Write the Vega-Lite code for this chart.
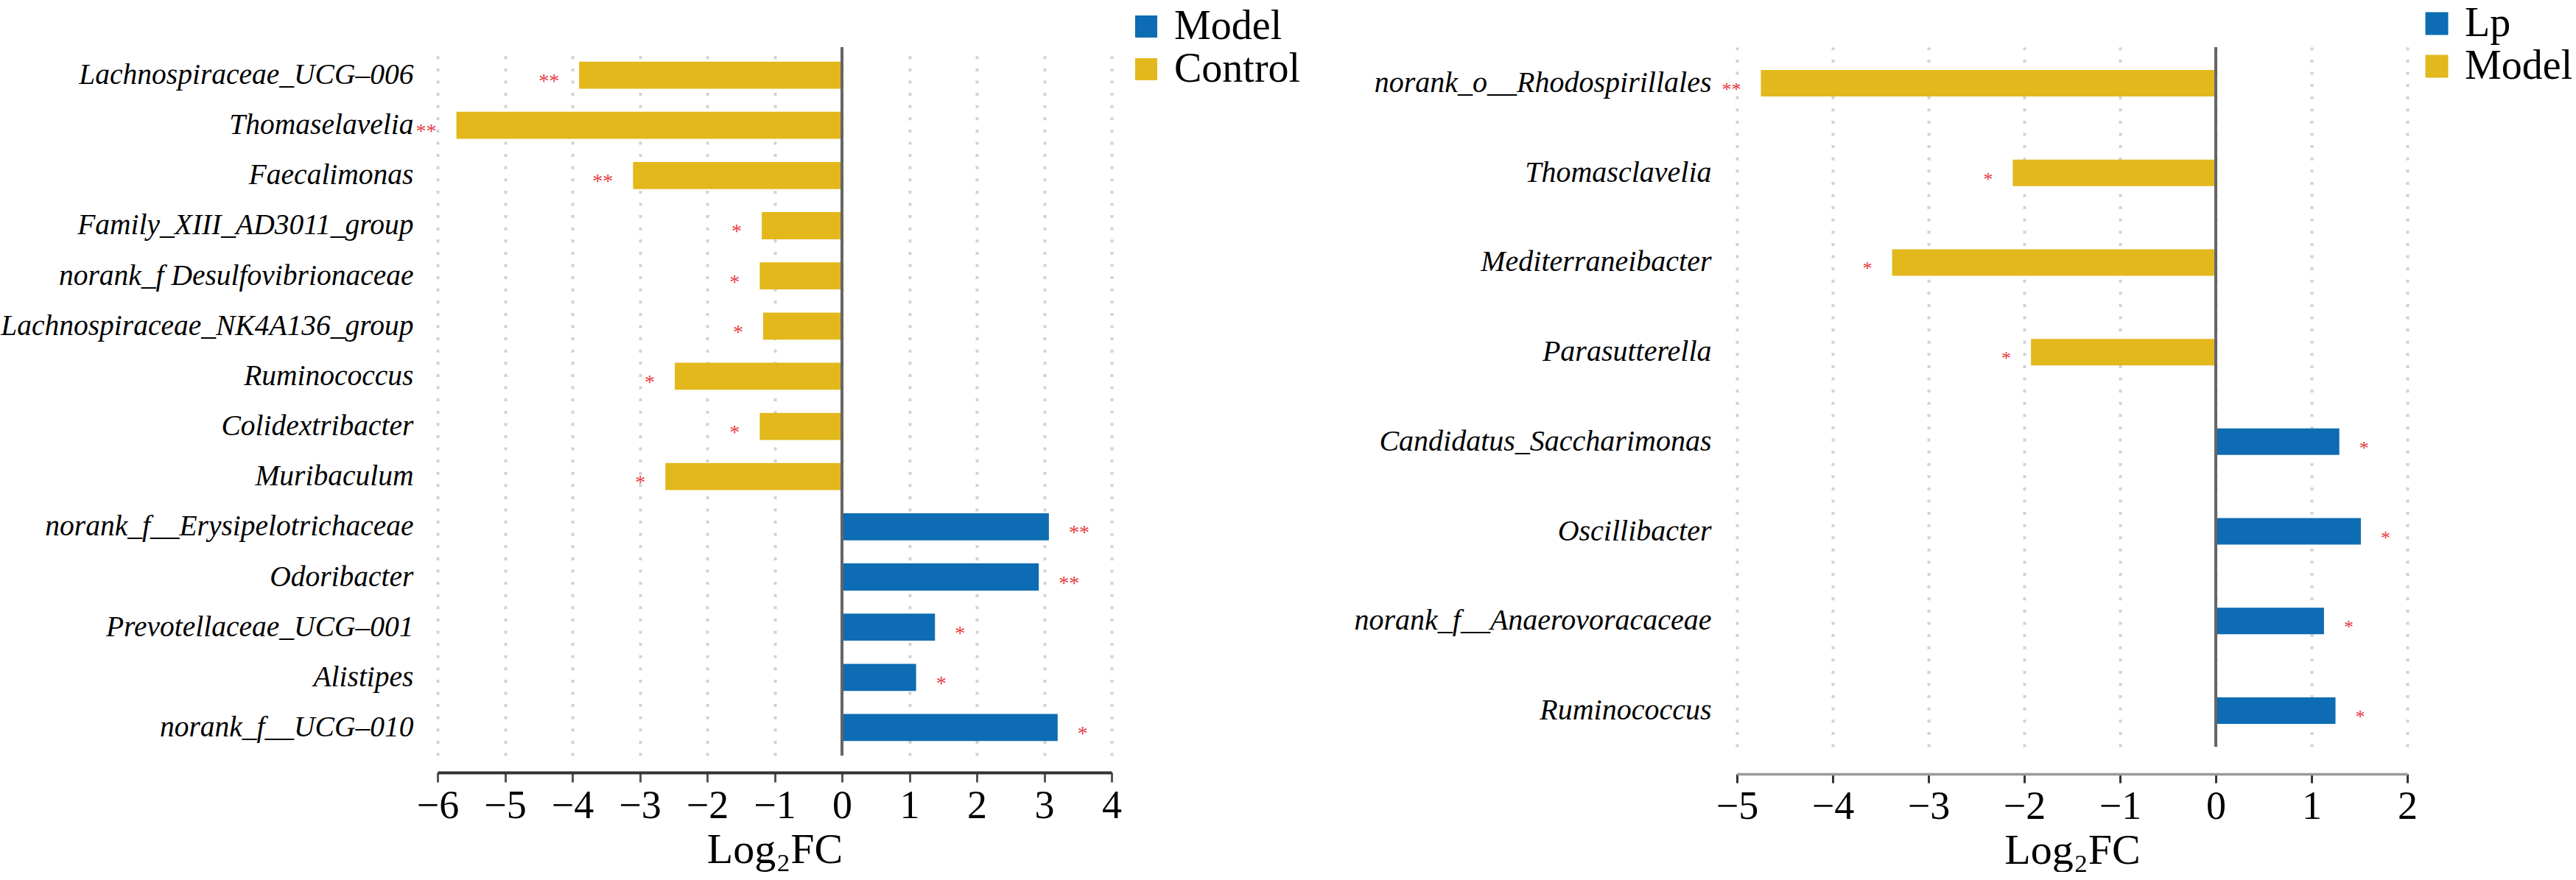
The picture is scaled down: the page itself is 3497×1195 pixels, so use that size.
{
  "$schema": "https://vega.github.io/schema/vega-lite/v6.json",
  "background": "white",
  "padding": {"left": 0, "top": 4, "right": 0, "bottom": 0},
  "bounds": "flush",
  "spacing": 849,
  "config": {"view": {"stroke": null}, "font": "Liberation Serif"},
  "resolve": {"scale": {"color": "independent"}, "legend": {"color": "independent"}},
  "datasets": {
    "left": [
      {"genus": "Lachnospiraceae_UCG–006", "log2fc": -3.90, "group": "Control", "sig": "**"},
      {"genus": "Thomaselavelia", "log2fc": -5.72, "group": "Control", "sig": "**"},
      {"genus": "Faecalimonas", "log2fc": -3.10, "group": "Control", "sig": "**"},
      {"genus": "Family_XIII_AD3011_group", "log2fc": -1.19, "group": "Control", "sig": "*"},
      {"genus": "norank_f Desulfovibrionaceae", "log2fc": -1.22, "group": "Control", "sig": "*"},
      {"genus": "Lachnospiraceae_NK4A136_group", "log2fc": -1.17, "group": "Control", "sig": "*"},
      {"genus": "Ruminococcus", "log2fc": -2.48, "group": "Control", "sig": "*"},
      {"genus": "Colidextribacter", "log2fc": -1.22, "group": "Control", "sig": "*"},
      {"genus": "Muribaculum", "log2fc": -2.62, "group": "Control", "sig": "*"},
      {"genus": "norank_f__Erysipelotrichaceae", "log2fc": 3.07, "group": "Model", "sig": "**"},
      {"genus": "Odoribacter", "log2fc": 2.92, "group": "Model", "sig": "**"},
      {"genus": "Prevotellaceae_UCG–001", "log2fc": 1.38, "group": "Model", "sig": "*"},
      {"genus": "Alistipes", "log2fc": 1.10, "group": "Model", "sig": "*"},
      {"genus": "norank_f__UCG–010", "log2fc": 3.20, "group": "Model", "sig": "*"}
    ],
    "right": [
      {"genus": "norank_o__Rhodospirillales", "log2fc": -4.75, "group": "Model", "sig": "**"},
      {"genus": "Thomasclavelia", "log2fc": -2.12, "group": "Model", "sig": "*"},
      {"genus": "Mediterraneibacter", "log2fc": -3.38, "group": "Model", "sig": "*"},
      {"genus": "Parasutterella", "log2fc": -1.93, "group": "Model", "sig": "*"},
      {"genus": "Candidatus_Saccharimonas", "log2fc": 1.29, "group": "Lp", "sig": "*"},
      {"genus": "Oscillibacter", "log2fc": 1.515, "group": "Lp", "sig": "*"},
      {"genus": "norank_f__Anaerovoracaceae", "log2fc": 1.13, "group": "Lp", "sig": "*"},
      {"genus": "Ruminococcus", "log2fc": 1.25, "group": "Lp", "sig": "*"}
    ]
  },
  "hconcat": [
    {
      "width": 915,
      "height": 962,
      "data": {"name": "left"},
      "layer": [
        {
          "mark": {"type": "bar"},
          "encoding": {
            "y": {
              "field": "genus", "type": "nominal", "sort": null,
              "scale": {"paddingInner": 0.46, "paddingOuter": 0.288},
              "axis": {"title": null, "domain": false, "ticks": false, "grid": false,
                "labelFont": "Liberation Serif", "labelFontStyle": "italic", "labelFontSize": 39.5,
                "labelColor": "#000", "labelPadding": 33, "labelLimit": 2000,
                "minExtent": 591, "maxExtent": 591}
            },
            "x": {
              "field": "log2fc", "type": "quantitative",
              "scale": {"domain": [-6, 4], "nice": false, "zero": false},
              "axis": {"title": "Log₂FC", "values": [-6, -5, -4, -3, -2, -1, 0, 1, 2, 3, 4], "format": "d",
                "grid": true, "gridColor": "#d2d2d2", "gridDash": [4, 12.6], "gridWidth": 4,
                "domainColor": "#333333", "domainWidth": 4, "tickColor": "#555555", "tickWidth": 3, "tickSize": 13,
                "offset": 23, "labelFont": "Liberation Serif", "labelFontSize": 54, "labelColor": "#000",
                "labelPadding": 5, "labelFlush": false, "labelOverlap": false,
                "titleFont": "Liberation Serif", "titleFontSize": 58, "titleFontWeight": "normal",
                "titleColor": "#000", "titlePadding": 4}
            },
            "color": {
              "field": "group", "type": "nominal",
              "scale": {"domain": ["Model", "Control"], "range": ["#0d6cb3", "#e2b81c"]},
              "legend": {"orient": "none", "legendX": 934, "legendY": -56, "title": null,
                "labelFont": "Liberation Serif", "labelFontSize": 56, "labelColor": "#000", "labelLimit": 1000,
                "symbolType": "square", "symbolSize": 900, "symbolStrokeWidth": 0, "symbolOpacity": 1,
                "labelOffset": 10, "rowPadding": 2, "padding": 0}
            }
          }
        },
        {
          "mark": {"type": "rule", "color": "#666666", "strokeWidth": 3.5},
          "encoding": {"x": {"datum": 0, "type": "quantitative"}}
        },
        {
          "transform": [{"filter": "datum.log2fc < 0"}],
          "mark": {"type": "text", "align": "right", "baseline": "middle", "dx": -27, "dy": 9,
            "fontSize": 28, "color": "#e63c44", "font": "Liberation Serif"},
          "encoding": {
            "x": {"field": "log2fc", "type": "quantitative"},
            "y": {"field": "genus", "type": "nominal", "sort": null},
            "text": {"field": "sig"}
          }
        },
        {
          "transform": [{"filter": "datum.log2fc > 0"}],
          "mark": {"type": "text", "align": "left", "baseline": "middle", "dx": 27, "dy": 9,
            "fontSize": 28, "color": "#e63c44", "font": "Liberation Serif"},
          "encoding": {
            "x": {"field": "log2fc", "type": "quantitative"},
            "y": {"field": "genus", "type": "nominal", "sort": null},
            "text": {"field": "sig"}
          }
        }
      ]
    },
    {
      "width": 910,
      "height": 950,
      "data": {"name": "right"},
      "layer": [
        {
          "mark": {"type": "bar"},
          "encoding": {
            "y": {
              "field": "genus", "type": "nominal", "sort": null,
              "scale": {"paddingInner": 0.704, "paddingOuter": 0.255},
              "axis": {"title": null, "domain": false, "ticks": false, "grid": false,
                "labelFont": "Liberation Serif", "labelFontStyle": "italic", "labelFontSize": 40,
                "labelColor": "#000", "labelPadding": 35, "labelLimit": 2000}
            },
            "x": {
              "field": "log2fc", "type": "quantitative",
              "scale": {"domain": [-5, 2], "nice": false, "zero": false},
              "axis": {"title": "Log₂FC",
                "values": [-5, -4.5, -4, -3.5, -3, -2.5, -2, -1.5, -1, -0.5, 0, 0.5, 1, 1.5, 2],
                "format": "d",
                "labelExpr": "datum.value % 1 === 0 ? datum.label : ''",
                "grid": true, "gridColor": "#d2d2d2", "gridDash": [4, 12.6], "gridWidth": 4,
                "domainColor": "#999999", "domainWidth": 3.5, "tickColor": "#333333", "tickWidth": 3, "tickSize": 12,
                "offset": 37, "labelFont": "Liberation Serif", "labelFontSize": 54, "labelColor": "#000",
                "labelPadding": 5, "labelFlush": false, "labelOverlap": false,
                "titleFont": "Liberation Serif", "titleFontSize": 58, "titleFontWeight": "normal",
                "titleColor": "#000", "titlePadding": 4}
            },
            "color": {
              "field": "group", "type": "nominal",
              "scale": {"domain": ["Lp", "Model"], "range": ["#0d6cb3", "#e2b81c"]},
              "legend": {"orient": "none", "legendX": 922, "legendY": -60, "title": null,
                "labelFont": "Liberation Serif", "labelFontSize": 56, "labelColor": "#000", "labelLimit": 1000,
                "symbolType": "square", "symbolSize": 961, "symbolStrokeWidth": 0, "symbolOpacity": 1,
                "labelOffset": 10, "rowPadding": 2, "padding": 0}
            }
          }
        },
        {
          "mark": {"type": "rule", "color": "#666666", "strokeWidth": 3.5},
          "encoding": {"x": {"datum": 0, "type": "quantitative"}}
        },
        {
          "transform": [{"filter": "datum.log2fc < 0"}],
          "mark": {"type": "text", "align": "right", "baseline": "middle", "dx": -27, "dy": 9,
            "fontSize": 26, "color": "#e63c44", "font": "Liberation Serif"},
          "encoding": {
            "x": {"field": "log2fc", "type": "quantitative"},
            "y": {"field": "genus", "type": "nominal", "sort": null},
            "text": {"field": "sig"}
          }
        },
        {
          "transform": [{"filter": "datum.log2fc > 0"}],
          "mark": {"type": "text", "align": "left", "baseline": "middle", "dx": 27, "dy": 9,
            "fontSize": 26, "color": "#e63c44", "font": "Liberation Serif"},
          "encoding": {
            "x": {"field": "log2fc", "type": "quantitative"},
            "y": {"field": "genus", "type": "nominal", "sort": null},
            "text": {"field": "sig"}
          }
        }
      ]
    }
  ]
}
